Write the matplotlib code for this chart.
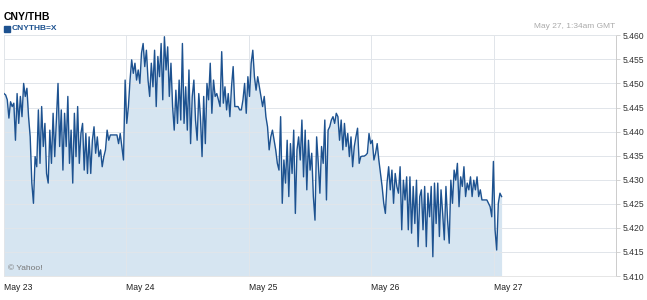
import matplotlib
matplotlib.use('Agg')
import matplotlib.pyplot as plt
from matplotlib.patches import Rectangle
import pandas as pd

plt.rcParams['font.family'] = ['Liberation Sans', 'DejaVu Sans']

# CNY/THB 汇率，按图读出的数值（May 23 00:00 至 May 27 01:34 GMT）
rate_may23 = [5.4479, 5.4476, 5.4466, 5.4428, 5.4462, 5.4452, 5.4459, 5.4382, 5.4479, 5.4417,
              5.4473, 5.4431, 5.4500, 5.4473, 5.4490, 5.4431, 5.4389, 5.4293, 5.4251, 5.4348,
              5.4327, 5.4445, 5.4334, 5.4452, 5.4369, 5.4417, 5.4313, 5.4293, 5.4403, 5.4334,
              5.4438, 5.4348, 5.4424, 5.4500, 5.4369, 5.4445, 5.4320, 5.4438, 5.4369, 5.4473,
              5.4334, 5.4403, 5.4293, 5.4438, 5.4348, 5.4452, 5.4334, 5.4396,
              5.4417, 5.4320, 5.4396, 5.4313, 5.4389, 5.4313, 5.4382, 5.4410, 5.4355, 5.4389,
              5.4348, 5.4362, 5.4327, 5.4348, 5.4362, 5.4403, 5.4382, 5.4393, 5.4393, 5.4393,
              5.4393, 5.4393, 5.4375, 5.4396, 5.4369, 5.4341]
rate_may24 = [5.4507, 5.4417, 5.4452, 5.4507, 5.4549, 5.4521, 5.4542, 5.4507, 5.4528, 5.4500,
              5.4563, 5.4583, 5.4535, 5.4569, 5.4507, 5.4473, 5.4542, 5.4493, 5.4569, 5.4452,
              5.4556, 5.4514, 5.4583, 5.4466, 5.4597, 5.4528,
              5.4576, 5.4473, 5.4542, 5.4452, 5.4403, 5.4486, 5.4417, 5.4507, 5.4424, 5.4583,
              5.4417, 5.4493, 5.4403, 5.4528, 5.4375, 5.4473, 5.4507, 5.4424, 5.4382, 5.4479,
              5.4431, 5.4348, 5.4473, 5.4375, 5.4500, 5.4466, 5.4542, 5.4438, 5.4507, 5.4473,
              5.4479, 5.4466, 5.4452, 5.4566, 5.4459, 5.4493, 5.4445, 5.4479, 5.4431, 5.4493,
              5.4535, 5.4452, 5.4452, 5.4452, 5.4445, 5.4445, 5.4466, 5.4500, 5.4438, 5.4514,
              5.4473]
rate_may25 = [5.4542, 5.4569, 5.4514, 5.4486, 5.4514, 5.4493, 5.4473, 5.4452, 5.4473, 5.4431,
              5.4410, 5.4362, 5.4389, 5.4403, 5.4382, 5.4362, 5.4334, 5.4320, 5.4431, 5.4251,
              5.4341, 5.4293, 5.4382, 5.4265, 5.4375, 5.4313, 5.4403, 5.4230, 5.4362, 5.4389,
              5.4341, 5.4424, 5.4306, 5.4403, 5.4279, 5.4382, 5.4320, 5.4355, 5.4265, 5.4216,
              5.4389, 5.4334, 5.4272, 5.4369, 5.4334, 5.4424, 5.4258, 5.4403, 5.4410, 5.4424,
              5.4431, 5.4417, 5.4438,
              5.4431, 5.4382, 5.4424, 5.4362, 5.4417, 5.4369, 5.4396, 5.4348, 5.4389, 5.4327,
              5.4369, 5.4389, 5.4407, 5.4334, 5.4348, 5.4349, 5.4349, 5.4351, 5.4355]
rate_may26 = [5.4396, 5.4375, 5.4382, 5.4341, 5.4355, 5.4375, 5.4341, 5.4313, 5.4286, 5.4251,
              5.4230, 5.4293, 5.4327, 5.4279, 5.4320, 5.4251, 5.4313, 5.4286, 5.4272, 5.4327,
              5.4196, 5.4299, 5.4258, 5.4306, 5.4196, 5.4306, 5.4189, 5.4286, 5.4209, 5.4299,
              5.4161, 5.4265,
              5.4279, 5.4196, 5.4286, 5.4161, 5.4272, 5.4223, 5.4286, 5.4140, 5.4293, 5.4209,
              5.4293, 5.4182, 5.4279, 5.4230, 5.4175, 5.4286, 5.4216, 5.4168, 5.4299, 5.4251,
              5.4320, 5.4299, 5.4334, 5.4244, 5.4306, 5.4286, 5.4327, 5.4265, 5.4293, 5.4279,
              5.4306, 5.4265, 5.4299, 5.4279, 5.4306, 5.4265, 5.4279, 5.4258, 5.4258, 5.4258,
              5.4258, 5.4251, 5.4244, 5.4223]
rate_may27 = [5.4338, 5.4196, 5.4154, 5.4251, 5.4272, 5.4265]

rate = rate_may23 + rate_may24 + rate_may25 + rate_may26 + rate_may27
times = pd.date_range('2013-05-23 00:00', '2013-05-27 01:34', periods=len(rate))

day_ticks = pd.date_range('2013-05-23', '2013-05-27', freq='D')
day_labels = ['May 23', 'May 24', 'May 25', 'May 26', 'May 27']
y_ticks = [5.410, 5.415, 5.420, 5.425, 5.430, 5.435, 5.440, 5.445, 5.450, 5.455, 5.460]

line_color = '#1d5290'
fill_color = '#d6e5f1'

fig = plt.figure(figsize=(6.47, 3.0), dpi=100)
ax = fig.add_axes([4 / 647, 24 / 300, 612 / 647, 240.7 / 300])

ax.fill_between(times, rate, 5.41, color=fill_color, lw=0, zorder=1)
ax.plot(times, rate, color=line_color, lw=1.0, zorder=3)

ax.set_xlim(pd.Timestamp('2013-05-23'), pd.Timestamp('2013-05-28'))
ax.set_ylim(5.410, 5.460)

ax.set_xticks(day_ticks)
ax.set_xticklabels(day_labels)
for lab in ax.get_xticklabels():
    lab.set_ha('left')
ax.set_yticks(y_ticks)
ax.set_yticklabels(['%.3f' % v for v in y_ticks])
ax.yaxis.tick_right()

ax.tick_params(axis='x', length=0, pad=5, labelsize=6.2, labelcolor='#222222')
ax.tick_params(axis='y', length=3, width=0.6, color='#cccccc', pad=1.5,
               labelsize=6.2, labelcolor='#333333')

ax.set_axisbelow(False)
ax.grid(True, color='#e1e5ea', lw=0.7, zorder=2)

for side in ['top', 'left', 'bottom']:
    ax.spines[side].set_color('#e6e6e6')
    ax.spines[side].set_linewidth(0.7)
ax.spines['right'].set_color('#cccccc')
ax.spines['right'].set_linewidth(0.7)

# 标题、图例和其他文字
fig.text(4 / 647, 1 - 17 / 300, 'CNY/THB', fontsize=7.5, fontweight='bold', va='center')
fig.patches.append(Rectangle((4 / 647, 1 - 32 / 300), 6 / 647, 6 / 300,
                             transform=fig.transFigure, color=line_color))
fig.text(12 / 647, 1 - 29 / 300, 'CNYTHB=X', fontsize=6, fontweight='bold',
         color=line_color, va='center')
fig.text(615 / 647, 1 - 27 / 300, 'May 27, 1:34am GMT', fontsize=6, color='#aaaaaa',
         ha='right', va='center')
fig.text(8 / 647, 1 - 268 / 300, '© Yahoo!', fontsize=6, color='#777777', va='center')

plt.savefig('out.png', dpi=100)
